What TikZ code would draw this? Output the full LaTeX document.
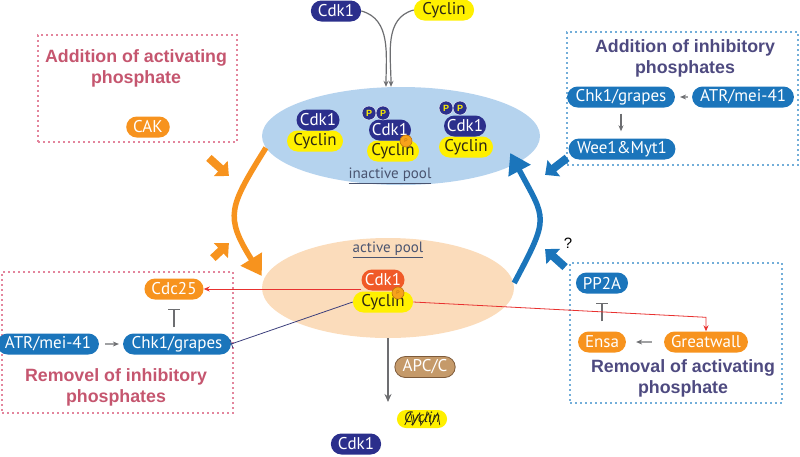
\documentclass[tikz,border=0pt]{standalone}
\usepackage{fontspec}
\setmainfont{Liberation Sans}
\newfontfamily\pillfont{PT Sans}
\usetikzlibrary{shapes.misc,shapes.geometric,arrows.meta,calc}

\definecolor{cdknavy}{RGB}{43,47,140}
\definecolor{cycyellow}{RGB}{255,240,0}
\definecolor{cyctext}{RGB}{45,40,20}
\definecolor{pathblue}{RGB}{27,117,187}
\definecolor{pathorange}{RGB}{247,147,30}
\definecolor{actred}{RGB}{240,90,40}
\definecolor{apcbrown}{RGB}{197,154,106}
\definecolor{apcedge}{RGB}{125,90,58}
\definecolor{inactblue}{RGB}{181,211,238}
\definecolor{actpeach}{RGB}{251,220,187}
\definecolor{pinktext}{RGB}{197,86,111}
\definecolor{pinkline}{RGB}{227,133,157}
\definecolor{purpletext}{RGB}{78,74,128}
\definecolor{blueline}{RGB}{115,174,217}
\definecolor{redline}{RGB}{232,49,47}
\definecolor{navyline}{RGB}{60,63,124}
\definecolor{arrowgray}{RGB}{109,110,113}
\definecolor{dotorange}{RGB}{247,162,27}
\definecolor{dotedge}{RGB}{190,115,15}
\definecolor{pooltext}{RGB}{74,84,112}

\tikzset{
  pill/.style={rounded rectangle, inner xsep=5pt, inner ysep=1pt, minimum height=21pt,
    font=\pillfont\fontsize{17}{19}\selectfont},
  cdk/.style={pill, fill=cdknavy, text=white},
  cyc/.style={pill, fill=cycyellow, text=cyctext},
  bluepill/.style={pill, fill=pathblue, text=white},
  orangepill/.style={pill, fill=pathorange, text=white},
  pinkbox/.style={draw=pinkline, line width=1.8pt, dash pattern=on 1.6pt off 3.4pt},
  bluebox/.style={draw=blueline, line width=1.8pt, dash pattern=on 1.6pt off 3.4pt},
  pinktitle/.style={font=\bfseries\fontsize{17.8}{21}\selectfont, text=pinktext, align=center},
  purpletitle/.style={font=\bfseries\fontsize{17.8}{21}\selectfont, text=purpletext, align=center},
  pooltitle/.style={font=\pillfont\fontsize{15}{15}\selectfont, text=pooltext},
  phos/.style={circle, fill=cdknavy, draw=white, line width=0.4pt, inner sep=0pt, minimum size=14pt,
    text=cycyellow, font=\bfseries\fontsize{9}{9}\selectfont},
  pdot/.style={circle, fill=dotorange, draw=dotedge, line width=0.6pt, inner sep=0pt, minimum size=12pt,
    text=dotedge, font=\fontsize{5}{5}\selectfont},
  smallarrow/.style={draw=arrowgray, line width=1.2pt, -{Stealth[length=6pt,width=5pt]}},
  inhib/.style={draw=arrowgray, line width=1.5pt, -{Bar[width=12pt]}},
  redarrow/.style={draw=redline, line width=0.8pt, -{Stealth[length=6pt,width=5pt]}},
  navyinhib/.style={draw=navyline, line width=0.8pt, -{Bar[width=9pt]}},
  orangearc/.style={draw=pathorange, line width=5.5pt, -{Triangle[length=20pt,width=24pt]}},
  bluearc/.style={draw=pathblue, line width=5.5pt, -{Triangle[length=20pt,width=24pt]}},
  orangeblock/.style={draw=pathorange, line width=8pt, -{Triangle[length=11pt,width=20pt]}},
  blueblock/.style={draw=pathblue, line width=8pt, -{Triangle[length=11pt,width=20pt]}}
}

\begin{document}
\begin{tikzpicture}[x=1pt,y=-1pt]
\useasboundingbox (0,0) rectangle (800,456);

% free subunits
\node[cdk] (cdkfree) at (336,11) {Cdk1};
\node[cyc] (cycfree) at (444,10) {Cyclin};

% inactive pool
\node[ellipse, fill=inactblue, minimum width=278, minimum height=98] (inact) at (401,136) {};
\node[pooltitle] (inacttitle) at (390,176) {\underline{inactive pool}};
\draw[smallarrow] (cdkfree.east) to[out=-15, in=90] ([xshift=-15pt]inact.north);
\draw[smallarrow] (cycfree.west) to[out=195, in=90] ([xshift=-10pt]inact.north);

\node[cyc, minimum width=66] (cyca) at (315,141) {Cyclin};
\node[cdk, minimum width=53] (cdka) at (318,120) {Cdk1};

\node[cyc, minimum width=62] (cycb) at (393,151) {Cyclin};
\node[cdk, minimum width=52] (cdkb) at (390,130) {Cdk1};
\node[phos] (pb1) at (369,113) {P};
\node[phos] (pb2) at (383,113) {P};
\node[pdot] (dotb) at (406,141) {P};

\node[cyc, minimum width=64] (cycc) at (466,147) {Cyclin};
\node[cdk, minimum width=52] (cdkc) at (465,126) {Cdk1};
\node[phos] (pc1) at (446,108) {P};
\node[phos] (pc2) at (460,108) {P};

% active pool
\node[ellipse, fill=actpeach, minimum width=252, minimum height=100] (act) at (388,288) {};
\node[pooltitle] (acttitle) at (388,250) {\underline{active pool}};
\node[cyc, minimum width=59] (cycact) at (383,302) {Cyclin};
\node[cdk, fill=actred, minimum width=53] (cdkact) at (383,280) {Cdk1};
\node[pdot] (dotact) at (398,293) {P};

% cycle arcs
\draw[orangearc] (inact.185) to[out=238, in=122, looseness=1.4] ([yshift=12pt]act.west);
\draw[bluearc] ([yshift=5pt]act.east) to[out=62, in=-62, looseness=1.5] ([xshift=-30pt,yshift=-17pt]inact.east);

% degradation
\coordinate (degr) at (388,402);
\draw[draw=arrowgray, line width=1.5pt, -{Stealth[length=8pt,width=7pt]}] (act.south) -- (degr);
\node[pill, fill=apcbrown, draw=apcedge, line width=0.8pt, text=white] (apc) at (425,367) {APC/C};
\node[pill, fill=cycyellow, minimum height=18pt, inner xsep=4pt, text=cyctext,
  font=\pillfont\itshape\fontsize{15}{15}\selectfont] (cycdead) at (422,419) {Cyclin};
\draw[cyctext, line width=0.7pt] ($(cycdead.west)+(8,6)$) -- ++(6,-12) -- ++(2,12) -- ++(7,-12)
  -- ++(1,12) -- ++(8,-12) -- ++(2,12) -- ++(7,-12) -- ++(2,12);
\node[cdk] (cdkleft) at (356,444) {Cdk1};

% addition of activating phosphate
\node[pinkbox, minimum width=199, minimum height=107] (addact) at (137.5,88.5) {};
\node[pinktitle] (addacttitle) at (136,68.5) {Addition of activating\\phosphate};
\node[orangepill] (cak) at (148,127) {CAK};
\draw[orangeblock] ([shift={(-29,15)}]addact.south east) -- ++(20,18);

% removal of inhibitory phosphates
\node[pinkbox, minimum width=231, minimum height=141] (remin) at (117.5,342.5) {};
\node[orangepill] (cdc25) at (174,289) {Cdc25};
\node[bluepill] (atrL) at (48,344) {ATR/mei-41};
\node[bluepill] (chkL) at (177,344) {Chk1/grapes};
\draw[smallarrow, shorten <=6pt, shorten >=4pt] (atrL) -- (chkL);
\draw[inhib, shorten <=6pt, shorten >=9pt] (chkL.north -| cdc25) -- (cdc25.south);
\node[pinktitle] (remintitle) at (116,387.5) {Removel of inhibitory\\phosphates};
\draw[orangeblock] ([shift={(-21,-13)}]remin.north east) -- ++(16,-15);

% addition of inhibitory phosphates
\node[bluebox, minimum width=231, minimum height=133] (addinh) at (682.5,98.5) {};
\node[purpletitle] (addinhtitle) at (685,58) {Addition of inhibitory\\phosphates};
\node[bluepill] (chkR) at (621,97) {Chk1/grapes};
\node[bluepill] (atrR) at (743,97) {ATR/mei-41};
\node[bluepill] (wee) at (622,149) {Wee1\&Myt1};
\draw[smallarrow, shorten <=4pt, shorten >=5pt] (atrR) -- (chkR);
\draw[smallarrow, shorten <=6pt, shorten >=7pt] (chkR.south) -- (chkR.south |- wee.north);
\draw[blueblock] ([shift={(1,-8)}]addinh.south west) -- ++(-22,17);

% removal of activating phosphate
\node[bluebox, minimum width=212, minimum height=140] (remact) at (676,333) {};
\node[bluepill] (pp2a) at (602,283) {PP2A};
\node[orangepill] (ensa) at (602,342) {Ensa};
\node[orangepill] (gwl) at (706,342) {Greatwall};
\draw[inhib, shorten <=10pt, shorten >=9pt] (ensa.north) -- (pp2a.south);
\draw[smallarrow, shorten <=12pt, shorten >=10pt] (gwl) -- (ensa);
\node[purpletitle] (remacttitle) at (683,378) {Removal of activating\\phosphate};
\draw[blueblock] ([shift={(-4,5)}]remact.north west) -- ++(-20,-18);
\node[font=\fontsize{15}{15}\selectfont] (qmark) at (568,243) {?};

% regulation by active Cdk1
\draw[redarrow] (cdkact.west |- cdc25.east) -- (cdc25.east);
\coordinate (gwlin) at ($(gwl.north)+(0,-14)$);
\draw[redarrow] (cycact.east) -- (gwlin) -- (gwl.north);
\draw[navyinhib] (cycact.west) -- (chkL.east);
\end{tikzpicture}
\end{document}
